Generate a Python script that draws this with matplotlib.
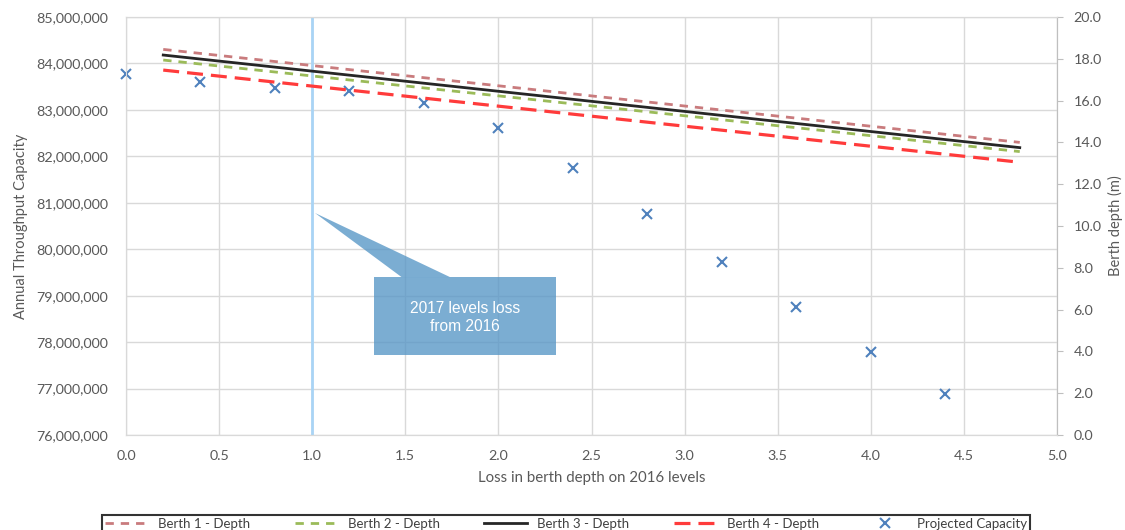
import matplotlib
matplotlib.use("Agg")
import matplotlib.pyplot as plt
from matplotlib.patches import Rectangle, Polygon
from matplotlib.ticker import FuncFormatter, MultipleLocator

plt.rcParams['font.family'] = ['Lato', 'DejaVu Sans']

# Data
cap_x = [0.0, 0.4, 0.8, 1.2, 1.6, 2.0, 2.4, 2.8, 3.2, 3.6, 4.0, 4.4]
cap_y = [83770000, 83600000, 83480000, 83400000, 83140000, 82600000,
         81750000, 80760000, 79720000, 78760000, 77790000, 76880000]
depth_x = [0.2, 4.8]
berth1 = [18.45, 14.0]
berth2 = [17.94, 13.56]
berth3 = [18.18, 13.75]
berth4 = [17.46, 13.05]
callout_text = "2017 levels loss\nfrom 2016"

grey = '#595959'
gridc = '#d9d9d9'

fig = plt.figure(figsize=(11.25, 5.3), dpi=100)
ax = fig.add_axes([126/1125, 1-435/530, (1057-126)/1125, (435-17)/530])
ax2 = ax.twinx()

ax.set_xlim(0, 5)
ax.set_ylim(76e6, 85e6)
ax2.set_ylim(0, 20)
ax.xaxis.set_major_locator(MultipleLocator(0.5))
ax.yaxis.set_major_locator(MultipleLocator(1e6))
ax2.yaxis.set_major_locator(MultipleLocator(2))
ax.yaxis.set_major_formatter(FuncFormatter(lambda v, p: f"{v:,.0f}"))
ax.xaxis.set_major_formatter(FuncFormatter(lambda v, p: f"{v:.1f}"))
ax2.yaxis.set_major_formatter(FuncFormatter(lambda v, p: f"{v:.1f}"))
ax.grid(True, color=gridc, lw=1)
ax.set_axisbelow(True)

for a in (ax, ax2):
    for s in a.spines.values():
        s.set_color(gridc)
ax2.spines['right'].set_color('#bfbfbf')
ax.tick_params(axis='y', length=0, labelsize=10.3, labelcolor=grey, pad=13)
ax.tick_params(axis='x', length=0, labelsize=10.3, labelcolor=grey, pad=11)
ax2.tick_params(axis='y', length=4, color='#bfbfbf', labelsize=10.3, labelcolor=grey, pad=8)

ax.set_ylabel("Annual Throughput Capacity", fontsize=10.5, color=grey, labelpad=6)
ax2.set_ylabel("Berth depth (m)", fontsize=10.5, color=grey, labelpad=4)
ax.set_xlabel("Loss in berth depth on 2016 levels", fontsize=10.8, color=grey, labelpad=6)

# vertical line
ax.axvline(1.0, color='#a9d4f5', lw=2, zorder=2)

# callout
box_x0, box_x1 = 1.332, 2.309
box_y0, box_y1 = 77.72e6, 79.40e6
c = '#5696c6'
ax.add_patch(Rectangle((box_x0, box_y0), box_x1-box_x0, box_y1-box_y0,
                       facecolor=c, edgecolor='none', alpha=0.78, zorder=3))
ax.add_patch(Polygon([(1.015, 80.78e6), (1.48, box_y1), (1.74, box_y1)],
                     closed=True, facecolor=c, edgecolor='none', alpha=0.78, zorder=3))
ax.text((box_x0+box_x1)/2, 78.53e6, callout_text, color='white', ha='center', va='center',
        fontsize=11.2, family=['Liberation Sans', 'DejaVu Sans'], zorder=4, linespacing=1.3)

# lines on secondary axis
l1, = ax2.plot(depth_x, berth1, color='#c97b7d', lw=2, ls=(0, (3, 2.5)), label='Berth 1 - Depth')
l2, = ax2.plot(depth_x, berth2, color='#9bbb59', lw=2, ls=(0, (3, 2.5)), label='Berth 2 - Depth')
l3, = ax2.plot(depth_x, berth3, color='#262626', lw=2, ls='-', label='Berth 3 - Depth')
l4, = ax2.plot(depth_x, berth4, color='#ff3b3b', lw=2.3, ls=(0, (5, 2.5)), label='Berth 4 - Depth')
sc, = ax2.plot([], [], ls='none', marker='x', color='#4f81bd', ms=7, mew=1.5, label='Projected Capacity')
ax.plot(cap_x, cap_y, ls='none', marker='x', color='#4f81bd', ms=7, mew=1.5, zorder=5, clip_on=False)

leg = fig.legend(handles=[l1, l2, l3, l4, sc], loc='upper left', ncol=5, mode='expand',
                 bbox_to_anchor=(95/1125, -0.2, 942/1125, 0.2 + 1 - 508/530),
                 frameon=True, fancybox=False, fontsize=9.5, handlelength=3.2,
                 borderpad=0.25, labelcolor='#404040')
leg.get_frame().set_edgecolor('black')
leg.get_frame().set_linewidth(1.5)

fig.savefig("out.png", dpi=100)
